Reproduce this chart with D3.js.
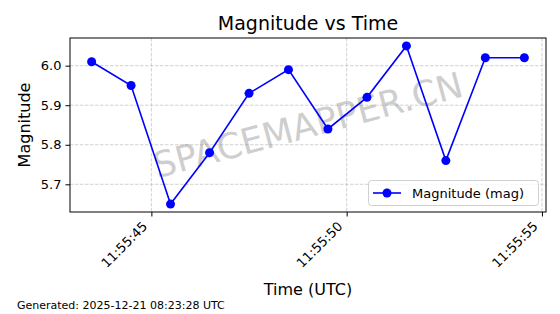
<!DOCTYPE html>
<html><head><meta charset="utf-8">
<script src="https://cdn.jsdelivr.net/npm/d3@7"></script>
<style>body{margin:0;background:#fff}svg{display:block;font-family:"DejaVu Sans",sans-serif}</style>
</head><body>
<script>
const times = ["11:55:43.47","11:55:44.48","11:55:45.49","11:55:46.49","11:55:47.50","11:55:48.51","11:55:49.52","11:55:50.52","11:55:51.53","11:55:52.54","11:55:53.55","11:55:54.55"];
const magnitudes = [6.01,5.95,5.65,5.78,5.93,5.99,5.84,5.92,6.05,5.76,6.02,6.02];
const xTickLabels = ["11:55:45","11:55:50","11:55:55"];
const yTicks = [5.7,5.8,5.9,6.0];
const title = "Magnitude vs Time", xLabel = "Time (UTC)", yLabel = "Magnitude";
const legendLabel = "Magnitude (mag)";
const footer = "Generated: 2025-12-21 08:23:28 UTC";
const watermark = "SPACEMAPPER.CN";

const W=560,H=314;
const L=70,R=546,T=38,B=212;
const base = "2025-12-21T";
const parse = s => new Date(base + s + "Z");
const data = times.map((t,i)=>({t:parse(t), v:magnitudes[i]}));
const [tMin,tMax] = d3.extent(data,d=>d.t);
const pad = (tMax - tMin)*0.05;
const x = d3.scaleUtc().domain([new Date(+tMin-pad), new Date(+tMax+pad)]).range([L,R]);
const [vMin,vMax] = d3.extent(magnitudes);
const vp = (vMax-vMin)*0.05;
const y = d3.scaleLinear().domain([vMin-vp, vMax+vp]).range([B,T]);

const svg = d3.select("body").append("svg").attr("width",W).attr("height",H);
const xt = xTickLabels.map(s=>parse(s));

// grid
const g = svg.append("g");
g.selectAll("line.gx").data(xt).join("line").attr("x1",d=>x(d)).attr("x2",d=>x(d)).attr("y1",T).attr("y2",B)
 .attr("stroke","#b0b0b0").attr("stroke-width",0.8).attr("stroke-dasharray","3.5,1.5").attr("opacity",0.7);
g.selectAll("line.gy").data(yTicks).join("line").attr("y1",d=>y(d)).attr("y2",d=>y(d)).attr("x1",L).attr("x2",R)
 .attr("stroke","#b0b0b0").attr("stroke-width",0.8).attr("stroke-dasharray","3.5,1.5").attr("opacity",0.7);

// watermark
svg.append("text").attr("transform",`translate(${(L+R)/2},${(T+B)/2}) rotate(-15)`)
 .attr("text-anchor","middle").attr("dominant-baseline","central")
 .attr("font-size",35.5).attr("fill","#808080").attr("opacity",0.38).text(watermark);

// line
svg.append("path").datum(data).attr("fill","none").attr("stroke","#0000ff").attr("stroke-width",1.6)
 .attr("d",d3.line().x(d=>x(d.t)).y(d=>y(d.v)));
svg.selectAll("circle.pt").data(data).join("circle").attr("cx",d=>x(d.t)).attr("cy",d=>y(d.v)).attr("r",4.5).attr("fill","#0000ff");

// axes
const xAxis = svg.append("g").attr("transform",`translate(0,${B})`)
 .call(d3.axisBottom(x).tickValues(xt).tickFormat(d3.utcFormat("%H:%M:%S")).tickSize(4.5).tickPadding(3));
xAxis.selectAll("text").attr("font-size",13).attr("fill","#000").style("text-anchor","end")
 .attr("x",0).attr("y",0).attr("dy","0.35em").attr("transform","translate(-7,12) rotate(-45)");
const yAxis = svg.append("g").attr("transform",`translate(${L},0)`)
 .call(d3.axisLeft(y).tickValues(yTicks).tickFormat(d3.format(".1f")).tickSize(4.5).tickPadding(4));
yAxis.selectAll("text").attr("font-size",13).attr("fill","#000");
[xAxis,yAxis].forEach(a=>{a.select(".domain").remove();a.selectAll("line").attr("stroke","#000").attr("stroke-width",1);a.attr("font-family","DejaVu Sans");});
svg.append("rect").attr("x",L).attr("y",T).attr("width",R-L).attr("height",B-T).attr("fill","none").attr("stroke","#000").attr("stroke-width",1);

// titles
svg.append("text").attr("x",(L+R)/2).attr("y",30).attr("text-anchor","middle").attr("font-size",19).text(title);
svg.append("text").attr("x",(L+R)/2).attr("y",295).attr("text-anchor","middle").attr("font-size",16).text(xLabel);
svg.append("text").attr("transform",`translate(30,${(T+B)/2}) rotate(-90)`).attr("text-anchor","middle").attr("font-size",16).text(yLabel);
svg.append("text").attr("x",17).attr("y",309).attr("font-size",11).text(footer);

// legend
const lg = svg.append("g");
lg.append("rect").attr("x",368.5).attr("y",180.5).attr("width",170).attr("height",25).attr("rx",3)
 .attr("fill","#fff").attr("fill-opacity",0.8).attr("stroke","#d0d0d0");
lg.append("line").attr("x1",373).attr("x2",401).attr("y1",193).attr("y2",193).attr("stroke","#0000ff").attr("stroke-width",1.6);
lg.append("circle").attr("cx",387).attr("cy",193).attr("r",4.5).attr("fill","#0000ff");
lg.append("text").attr("x",412).attr("y",197.5).attr("font-size",13).text(legendLabel);
</script>
</body></html>
